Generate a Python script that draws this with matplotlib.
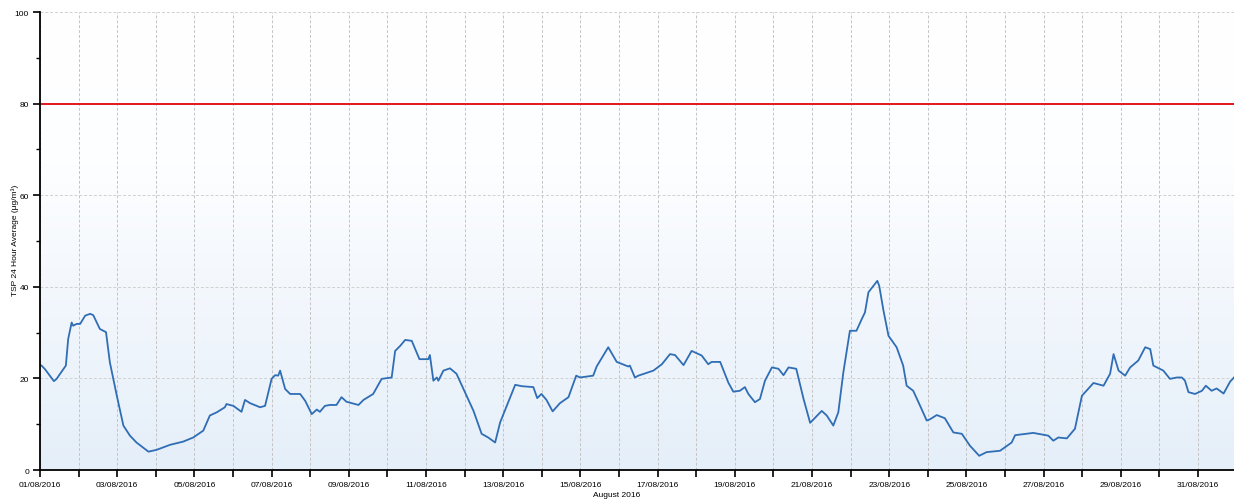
import numpy as np
import pandas as pd
import matplotlib
matplotlib.use("Agg")
import matplotlib.pyplot as plt
import matplotlib.dates as mdates
from matplotlib.colors import LinearSegmentedColormap

# Days since 01/08/2016 00:00 and TSP 24-hour average (ug/m3)
days = [0.00, 0.04, 0.13, 0.36, 0.43, 0.67, 0.73, 0.82, 0.86, 0.95, 1.04, 1.17, 1.30, 1.38,
        1.55, 1.64, 1.71, 1.81, 1.99, 2.16, 2.33, 2.50, 2.81, 3.02, 3.37, 3.71, 3.97, 4.23,
        4.40, 4.58, 4.79, 4.83, 5.01, 5.22, 5.31, 5.44, 5.70, 5.83, 6.00, 6.09, 6.17, 6.22,
        6.35, 6.48, 6.74, 6.87, 7.04, 7.17, 7.25, 7.38, 7.51, 7.68, 7.81, 7.94, 8.25, 8.38,
        8.63, 8.85, 9.11, 9.20, 9.33, 9.46, 9.63, 9.83, 10.06, 10.10, 10.19, 10.28, 10.32,
        10.45, 10.62, 10.79, 10.97, 11.23, 11.44, 11.61, 11.79, 11.92, 12.09, 12.31, 12.48,
        12.78, 12.88, 12.99, 13.12, 13.28, 13.47, 13.69, 13.89, 13.99, 14.33, 14.42, 14.72,
        14.94, 15.24, 15.28, 15.41, 15.50, 15.89, 16.11, 16.32, 16.45, 16.67, 16.88, 17.14,
        17.31, 17.40, 17.62, 17.83, 17.96, 18.13, 18.26, 18.35, 18.52, 18.65, 18.78, 18.96,
        19.13, 19.26, 19.39, 19.59, 19.78, 19.95, 20.25, 20.38, 20.55, 20.68, 20.81, 20.98,
        21.15, 21.29, 21.37, 21.46, 21.59, 21.69, 21.74, 21.85, 21.98, 22.19, 22.36, 22.45,
        22.62, 22.80, 22.97, 23.06, 23.23, 23.44, 23.66, 23.88, 24.09, 24.33, 24.52, 24.87,
        25.17, 25.26, 25.73, 26.12, 26.25, 26.38, 26.60, 26.81, 26.99, 27.29, 27.55, 27.72,
        27.81, 27.94, 28.11, 28.24, 28.45, 28.63, 28.76, 28.84, 29.10, 29.27, 29.45, 29.58,
        29.66, 29.75, 29.92, 30.10, 30.20, 30.35, 30.48, 30.66, 30.83, 30.93]
tsp = [22.9, 22.8, 22.0, 19.4, 19.9, 22.8, 28.6, 32.2, 31.5, 31.9, 31.9, 33.7, 34.1, 33.8,
       30.8, 30.4, 30.1, 23.5, 16.2, 9.7, 7.5, 6.0, 4.0, 4.4, 5.5, 6.2, 7.1, 8.6,
       11.9, 12.6, 13.7, 14.4, 14.0, 12.7, 15.3, 14.6, 13.7, 14.0, 19.9, 20.7, 20.6, 21.7,
       17.7, 16.6, 16.6, 15.1, 12.2, 13.2, 12.7, 14.0, 14.2, 14.2, 15.9, 14.9, 14.2, 15.3,
       16.6, 19.9, 20.2, 26.0, 27.1, 28.4, 28.2, 24.2, 24.2, 25.1, 19.5, 20.2, 19.5,
       21.7, 22.2, 21.0, 17.7, 12.9, 7.9, 7.1, 6.0, 10.4, 14.0, 18.6, 18.3,
       18.1, 15.7, 16.6, 15.3, 12.8, 14.6, 15.9, 20.6, 20.2, 20.6, 22.6, 26.8,
       23.6, 22.6, 22.8, 20.2, 20.6, 21.7, 23.1, 25.3, 25.1, 22.9, 26.0, 25.0,
       23.1, 23.6, 23.6, 19.1, 17.1, 17.3, 18.1, 16.6, 14.8, 15.5, 19.5, 22.4,
       22.1, 20.7, 22.4, 22.1, 15.5, 10.3, 12.9, 11.9, 9.7, 12.6, 21.3, 30.4,
       30.4, 33.0, 34.4, 38.8, 40.2, 41.3, 40.2, 34.8, 29.3, 26.8, 22.8, 18.4,
       17.3, 14.0, 10.8, 11.1, 12.0, 11.3, 8.2, 7.9, 5.3, 3.1, 3.9, 4.2,
       6.0, 7.6, 8.1, 7.5, 6.4, 7.1, 6.9, 9.0, 16.2, 19.0, 18.4, 21.0,
       25.3, 21.7, 20.6, 22.4, 23.9, 26.8, 26.4, 22.8, 21.7, 19.9, 20.2, 20.2,
       19.5, 17.0, 16.6, 17.3, 18.4, 17.3, 17.8, 16.7, 19.3, 20.2]
guideline = 80
start_date = "2016-08-01"
end_offset_days = 30.93
y_ticks = [0, 20, 40, 60, 80, 100]
y_minor_ticks = [10, 30, 50, 70, 90]

plt.rcParams['font.family'] = ['Liberation Sans', 'DejaVu Sans']

start = pd.Timestamp(start_date)
times = [start + pd.Timedelta(days=d) for d in days]
end = start + pd.Timedelta(days=end_offset_days)

fig = plt.figure(figsize=(12.34, 5.02), dpi=100)
ax = fig.add_axes([40 / 1234, 1 - 471 / 502, 1 - 40 / 1234, (471 - 13) / 502])

# background gradient
grad = np.linspace(0, 1, 256).reshape(-1, 1)
cmap = LinearSegmentedColormap.from_list("bg", ["#e5eff9", "#f1f6fc", "#fdfeff", "#ffffff"])
ax.imshow(grad, aspect='auto', cmap=cmap, extent=[0, 1, 0, 1], origin='lower',
          transform=ax.transAxes, zorder=0)

ax.plot(times, tsp, color="#2f6db5", lw=1.3, zorder=3)
ax.axhline(guideline, color="#e3161d", lw=1.4, zorder=3)

ax.set_xlim(start, end)
ax.set_ylim(0, 100)

ax.xaxis.set_major_locator(mdates.DayLocator(bymonthday=range(1, 32, 2)))
ax.xaxis.set_minor_locator(mdates.DayLocator(bymonthday=range(2, 32, 2)))
ax.xaxis.set_major_formatter(mdates.DateFormatter("%d/%m/%Y"))
ax.set_yticks(y_ticks)
ax.set_yticks(y_minor_ticks, minor=True)

ax.tick_params(axis='x', which='both', direction='out', length=5, width=1.2,
               labelsize=6, pad=3, colors='black')
ax.tick_params(axis='y', which='major', direction='out', length=5, width=1.2,
               labelsize=6, pad=3)
ax.tick_params(axis='y', which='minor', direction='out', length=3, width=1.0)

ax.grid(axis='x', which='both', color='#c4c4c4', ls=(0, (3, 2)), lw=0.7, zorder=1)
ax.grid(axis='y', which='major', color='#d0d0d0', ls=(0, (3, 2)), lw=0.7, zorder=1)

for s in ['top', 'right']:
    ax.spines[s].set_visible(False)
for s in ['left', 'bottom']:
    ax.spines[s].set_linewidth(1.3)
    ax.spines[s].set_zorder(4)

fig.text(15 / 1234, 1 - 240 / 502, "TSP 24 Hour Average (μg/m³)", fontsize=6,
         rotation=90, ha='center', va='center')
fig.text(617 / 1234, 1 - 496 / 502, "August 2016", fontsize=6, ha='center', va='center')

fig.savefig("out.png", dpi=100, facecolor='white')
